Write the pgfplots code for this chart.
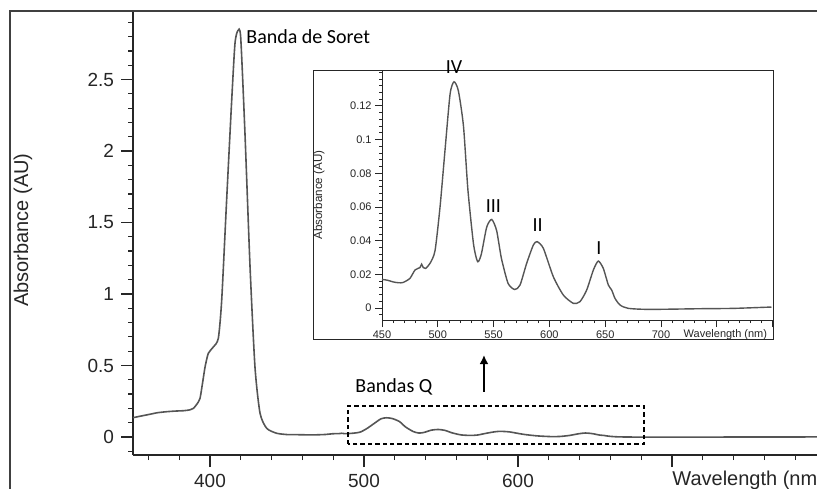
\documentclass[border=0pt]{standalone}
\usepackage{fontspec}
\setmainfont{Liberation Sans}
\newfontfamily\calibri{Carlito}
\usepackage{pgfplots}
\pgfplotsset{compat=1.18}
\usepackage{pgfplotstable}
\usetikzlibrary{arrows.meta}

\definecolor{curve}{HTML}{555555}
\definecolor{axisgray}{HTML}{262626}

% Soret region (main spectrum, 350-450 nm)
\pgfplotstableread{
lambda A
350   0.135
355   0.146
361   0.159
366   0.170
372   0.177
377   0.181
383   0.184
387   0.190
389.2 0.200
391.5 0.230
393.5 0.270
395.2 0.380
396.8 0.490
398.9 0.585
402.2 0.630
405.4 0.690
407.6 0.958
410.8 1.657
414.1 2.357
416.2 2.750
418.0 2.840
419.9 2.800
422.7 2.124
426.0 1.190
429.2 0.490
432.5 0.166
436.8 0.061
443.3 0.026
450   0.017
}\soret

% Q bands (450-800 nm)
\pgfplotstableread{
lambda A
450   0.0170
455   0.0165
460   0.0155
465   0.0150
469   0.0152
475   0.0176
479.6 0.0226
484   0.0240
485.5 0.0260
487   0.0240
489   0.0235
493   0.0265
497.5 0.0340
502   0.0600
506.5 0.0940
511   0.1270
514.5 0.1343
518.4 0.1290
523   0.1080
527   0.0700
532   0.0380
535.7 0.0275
539   0.0320
543.8 0.0480
548.3 0.0526
552.7 0.0460
557   0.0295
563   0.0146
569   0.0110
573.7 0.0137
579.6 0.0265
585.6 0.0374
589   0.0394
594.6 0.0354
603.5 0.0186
612.5 0.0077
621.4 0.0028
627.4 0.0038
633.4 0.0107
639.4 0.0226
643.8 0.0279
648.3 0.0235
652.8 0.0137
655.8 0.0107
658.8 0.0057
663.3 0.0018
670.7 -0.0002
690   -0.0008
735   -0.0004
765   -0.0002
799   0.0006
}\qbands

\begin{document}
\begin{tikzpicture}
% outer frame (cropped at right and bottom)
\draw[line width=0.7pt, gray!50!black] (5pt,-20pt) rectangle (440pt,238.5pt);

\begin{axis}[
  at={(66.5pt,16.5pt)}, anchor=south west,
  scale only axis, width=346.5pt, height=221.35pt,
  xmin=350, xmax=800, ymin=-0.126, ymax=2.97,
  axis x line=bottom, axis y line=left,
  axis line style={-, line width=0.7pt, axisgray},
  tick align=outside, major tick length=6pt, minor tick length=2.5pt,
  tick style={axisgray, line width=0.6pt},
  xtick={400,500,600,700,800}, xticklabels={400,500,600,{},{}},
  minor xtick={360,380,...,800},
  ytick={0,0.5,1,1.5,2,2.5}, yticklabels={0,0.5,1,1.5,2,2.5},
  minor ytick={-0.1,0,...,2.9},
  ticklabel style={font=\fontsize{9.5}{10}\selectfont, text=axisgray},
  /pgf/number format/assume math mode=true,
  ylabel={Absorbance (AU)},
  ylabel style={at={(axis description cs:-0.1587,0.508)}, anchor=center,
    font=\fontsize{10}{11}\selectfont, text=axisgray},
  clip=false,
]
\addplot[curve, line width=0.8pt, smooth, tension=0.4] table[x=lambda, y=A] {\soret};
\addplot[curve, line width=0.8pt, smooth, tension=0.4] table[x=lambda, y=A] {\qbands};

\node[font=\calibri\fontsize{10}{12}\selectfont, anchor=base west, inner sep=0]
  at (axis cs:423.4,2.753) {Banda de Soret};
\node[font=\calibri\fontsize{10}{12}\selectfont, anchor=base west, inner sep=0]
  at (axis cs:494.2,0.308) {Bandas Q};
\draw[line width=1.3pt, -{Latex[length=4.5pt,width=4.5pt]}]
  (axis cs:577.9,0.315) -- (axis cs:577.9,0.573);
\draw[dash pattern=on 2.2pt off 1.5pt, line width=0.7pt]
  (axis cs:489.6,-0.049) rectangle (axis cs:681.8,0.217);
\node[anchor=north west, inner sep=0, yshift=-8pt, text=axisgray,
  font=\fontsize{10}{11}\selectfont] at (axis cs:700,-0.126) {Wavelength (nm)};
\end{axis}

% inset frame
\draw[fill=white, draw=axisgray, line width=0.5pt] (156.5pt,74.5pt) rectangle (386.5pt,208.5pt);

\begin{axis}[
  at={(191pt,84pt)}, anchor=south west,
  scale only axis, width=195.3pt, height=124.5pt,
  xmin=450, xmax=800, ymin=-0.0071, ymax=0.1407,
  axis x line=bottom, axis y line=left,
  axis line style={-, line width=0.5pt, axisgray},
  tick align=outside, major tick length=3.5pt, minor tick length=1.5pt,
  tick style={axisgray, line width=0.4pt},
  xtick={450,500,550,600,650,700,750,800},
  xticklabels={450,500,550,600,650,700,{},{}},
  minor xtick={460,470,...,800},
  ytick={0,0.02,0.04,0.06,0.08,0.1,0.12},
  yticklabels={0,0.02,0.04,0.06,0.08,0.1,0.12},
  minor ytick={-0.004,0,...,0.14},
  ticklabel style={font=\fontsize{5.5}{6}\selectfont, text=axisgray, inner sep=1.5pt},
  /pgf/number format/assume math mode=true,
  ylabel={Absorbance (AU)},
  ylabel style={at={(axis description cs:-0.161,0.502)}, anchor=center,
    font=\fontsize{5.8}{7}\selectfont, text=axisgray},
  clip=false,
]
\addplot[curve, line width=0.7pt, smooth, tension=0.4] table[x=lambda, y=A] {\qbands};

\node[font=\calibri\fontsize{10}{12}\selectfont, anchor=base, inner sep=0]
  at (axis cs:514.5,0.1395) {IV};
\node[font=\calibri\fontsize{10}{12}\selectfont, anchor=base, inner sep=0]
  at (axis cs:549.8,0.0566) {III};
\node[font=\calibri\fontsize{10}{12}\selectfont, anchor=base, inner sep=0]
  at (axis cs:589.5,0.0453) {II};
\node[font=\calibri\fontsize{10}{12}\selectfont, anchor=base, inner sep=0]
  at (axis cs:644.4,0.0315) {I};
\node[anchor=north west, inner sep=0, yshift=-4.5pt, text=axisgray,
  font=\fontsize{5.5}{6}\selectfont] at (axis cs:720,-0.0071) {Wavelength (nm)};
\end{axis}

\pgfresetboundingbox
\useasboundingbox (0,0) rectangle (408.5pt,244pt);
\end{tikzpicture}
\end{document}
